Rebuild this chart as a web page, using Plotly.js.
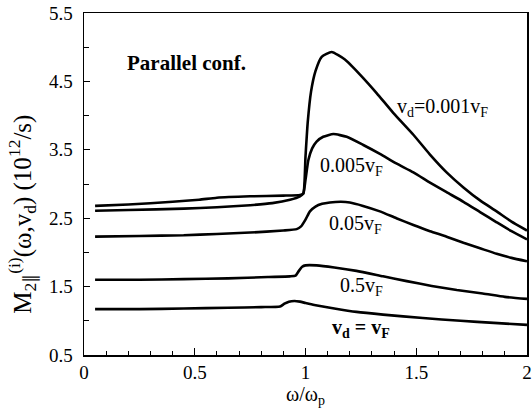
<!DOCTYPE html>
<html>
<head>
<meta charset="utf-8">
<script src="https://cdn.plot.ly/plotly-3.0.1.min.js"></script>
<style>html,body{margin:0;padding:0;background:#fff}#chart{width:532px;height:413px}</style>
</head>
<body>
<div id="chart"></div>
<script>
// omega / omega_p values and M2 values (10^12/s) for each drift velocity
const x001 = [0.05,0.2,0.4,0.52,0.6,0.75,0.9,0.975,0.99,1.0,1.01,1.025,1.045,1.073,1.118,1.178,1.246,1.321,1.396,1.487,1.562,1.637,1.713,1.788,1.863,1.93,2.0];
const y001 = [2.68,2.70,2.74,2.77,2.80,2.82,2.83,2.84,2.86,3.4,3.9,4.35,4.65,4.86,4.93,4.82,4.60,4.33,4.04,3.72,3.43,3.17,2.95,2.76,2.60,2.45,2.32];

const x005 = [0.05,0.2,0.45,0.6,0.75,0.85,0.93,0.975,0.99,1.0,1.013,1.03,1.05,1.08,1.126,1.186,1.261,1.336,1.41,1.487,1.562,1.637,1.713,1.788,1.863,1.93,2.0];
const y005 = [2.61,2.62,2.64,2.66,2.69,2.72,2.77,2.82,2.86,3.06,3.35,3.52,3.62,3.69,3.73,3.69,3.57,3.44,3.30,3.17,3.02,2.88,2.74,2.59,2.44,2.31,2.19];

const x05 = [0.05,0.25,0.45,0.6,0.75,0.9,0.96,0.98,1.0,1.02,1.045,1.075,1.11,1.16,1.2,1.26,1.336,1.41,1.487,1.562,1.637,1.713,1.788,1.863,1.93,2.0];
const y05 = [2.23,2.24,2.25,2.27,2.29,2.32,2.34,2.38,2.48,2.60,2.67,2.71,2.73,2.74,2.73,2.68,2.60,2.50,2.40,2.31,2.23,2.14,2.06,1.98,1.92,1.87];

const x5 = [0.05,0.25,0.45,0.65,0.83,0.93,0.955,0.97,0.985,1.0,1.05,1.13,1.23,1.35,1.457,1.57,1.683,1.8,1.9,2.0];
const y5 = [1.60,1.60,1.61,1.62,1.64,1.65,1.66,1.73,1.79,1.81,1.81,1.78,1.73,1.65,1.58,1.51,1.45,1.40,1.35,1.32];

const x1 = [0.05,0.25,0.45,0.65,0.8,0.885,0.905,0.925,0.95,0.975,1.0,1.04,1.13,1.23,1.35,1.53,1.7,1.85,2.0];
const y1 = [1.17,1.17,1.18,1.19,1.20,1.21,1.25,1.28,1.29,1.28,1.26,1.23,1.18,1.13,1.09,1.04,1.00,0.97,0.94];

const seriesNames = ['v_d=0.001v_F','0.005v_F','0.05v_F','0.5v_F','v_d=v_F'];
const curveLabels = ['v<sub>d</sub>=0.001v<sub>F</sub>','0.005v<sub>F</sub>','0.05v<sub>F</sub>','0.5v<sub>F</sub>','<b>v<sub>d</sub> = v<sub>F</sub></b>'];
const labelX = [1.404,1.056,1.097,1.147,1.11];
const labelY = [4.12,3.26,2.41,1.50,0.89];

const xs = [x001,x005,x05,x5,x1];
const ys = [y001,y005,y05,y5,y1];

const SERIF = 'Liberation Serif';

const traces = xs.map((xv,i)=>({
  x: xv, y: ys[i], name: seriesNames[i], type:'scatter', mode:'lines',
  line:{color:'#000', width:2.6, shape:'spline', smoothing:0.5},
  hoverinfo:'skip'
}));

const annotations = curveLabels.map((t,i)=>({
  x: labelX[i], y: labelY[i], xref:'x', yref:'y', text:t, showarrow:false,
  xanchor:'left', yanchor:'middle', font:{family:SERIF, size:20, color:'#000'}
}));
annotations.push({
  x:0.185, y:4.77, xref:'x', yref:'y', text:'<b>Parallel conf.</b>', showarrow:false,
  xanchor:'left', yanchor:'middle', font:{family:SERIF, size:21, color:'#000'}
});
annotations.push({
  x:-0.185, y:0.41, xref:'paper', yref:'paper', textangle:-90, showarrow:false,
  text:'M<sub>2∥</sub><sup>(i)</sup>(ω,v<sub>d</sub>) (10<sup>12</sup>/s)',
  xanchor:'left', yanchor:'middle', font:{family:SERIF, size:25, color:'#000'}
});

const layout = {
  width:532, height:413,
  margin:{l:84, r:5, t:13, b:58},
  paper_bgcolor:'#fff', plot_bgcolor:'#fff',
  showlegend:false,
  font:{family:SERIF, color:'#000'},
  xaxis:{
    range:[0,2], dtick:0.5, tick0:0, ticks:'inside', ticklen:7, tickwidth:1.2, tickcolor:'#000',
    minor:{dtick:0.1, ticks:'inside', ticklen:4, tickwidth:1, tickcolor:'#000'},
    showline:true, mirror:true, linecolor:'#000', linewidth:1.5,
    showgrid:false, zeroline:false,
    tickfont:{family:SERIF, size:19, color:'#000'},
    ticklabelstandoff:0,
    title:{text:'ω/ω<sub>p</sub>', font:{family:SERIF, size:20, color:'#000'}, standoff:4}
  },
  yaxis:{
    range:[0.5,5.5], dtick:1, tick0:0.5, ticks:'inside', ticklen:6, tickwidth:1.2, tickcolor:'#000',
    minor:{dtick:0.5, ticks:'inside', ticklen:5, tickwidth:1, tickcolor:'#000'},
    showline:true, mirror:true, linecolor:'#000', linewidth:1.5,
    showgrid:false, zeroline:false,
    tickfont:{family:SERIF, size:19, color:'#000'},
    ticklabelstandoff:6
  },
  annotations: annotations
};

Plotly.newPlot('chart', traces, layout, {displayModeBar:false, staticPlot:true});
</script>
</body>
</html>
